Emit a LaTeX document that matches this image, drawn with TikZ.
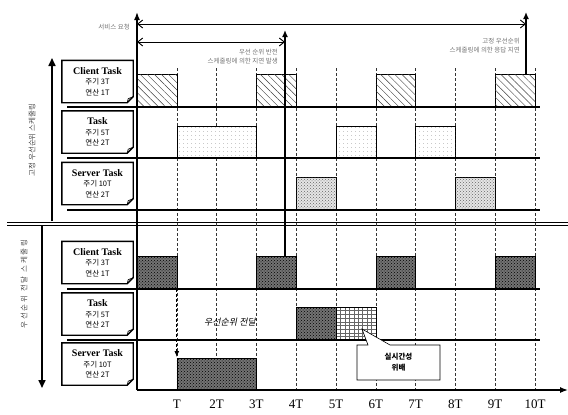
\documentclass[tikz,border=0pt]{standalone}
\usepackage{fontspec}
\setmainfont{Liberation Serif}
\newfontfamily\kr{Noto Sans CJK KR}
\newfontfamily\krit{Noto Sans CJK KR}[FakeSlant=0.2]
\newfontfamily\krsp{Noto Sans CJK KR}[LetterSpace=25]
\usetikzlibrary{patterns,patterns.meta,arrows.meta,calc}
\begin{document}
\begin{tikzpicture}[x=1pt,y=-1pt,
  hatch/.style={draw=black, line width=0.5pt, fill=white, postaction={pattern={Lines[angle=-45,distance=5pt,line width=0.45pt]}, pattern color=black!75}},
  lightdots/.style={draw=black, line width=0.5pt, fill=white, postaction={pattern={Dots[distance=4pt,radius=0.35pt]}, pattern color=black!50}},
  meddots/.style={draw=black, line width=0.5pt, fill=black!10, postaction={pattern=crosshatch dots, pattern color=black!60}},
  dark/.style={draw=black, line width=0.5pt, fill=black!55, postaction={pattern=crosshatch dots, pattern color=black}},
  gridblk/.style={draw=black, line width=0.5pt, fill=white},
  gline/.style={densely dashed, line width=0.5pt, black!80},
  rowline/.style={line width=1.2pt},
  taskdoc/.style={minimum width=71pt, minimum height=42pt, inner sep=0pt, align=center, font=\fontsize{7.5}{10.5}\selectfont},
  docborder/.style={line width=1.4pt, fill=white},
  note/.style={font=\kr\fontsize{6.5}{8.5}\selectfont, text=black!55, align=right, inner sep=0pt},
  tlab/.style={font=\fontsize{13}{13}\selectfont, inner sep=0pt},
  bigarrow/.style={line width=1.6pt, -{Triangle[length=8pt,width=7pt]}},
  toparrow/.style={line width=1.3pt}
]
\useasboundingbox (0,0) rectangle (568,415);
\def\T{39.8}
\def\tx#1{137+#1*\T}

% coordinates
\coordinate (o) at (137,390);
\coordinate (otop) at (137,12);
\coordinate (xend) at (568,390);

% double separator
\draw[line width=1pt] (7,222) -- (568,222);
\draw[line width=1pt] (7,225.5) -- (568,225.5);

% grid lines
\foreach \k in {1,...,10}{
  \draw[gline] ({\tx{\k}},68) -- ({\tx{\k}},390);
}

% top client blocks
\foreach \k in {0,3,6,9}{
  \path[hatch] ({\tx{\k}},74) rectangle ({\tx{\k}+\T},107);
}
% top task blocks
\path[lightdots] ({\tx{1}},126) rectangle ({\tx{3}},158);
\path[lightdots] ({\tx{5}},126) rectangle ({\tx{6}},158);
\path[lightdots] ({\tx{7}},126) rectangle ({\tx{8}},158);
% top server blocks
\path[meddots] ({\tx{4}},177) rectangle ({\tx{5}},210);
\path[meddots] ({\tx{8}},177) rectangle ({\tx{9}},210);

% bottom client blocks
\foreach \k in {0,3,6,9}{
  \path[dark] ({\tx{\k}},256) rectangle ({\tx{\k}+\T},289);
}
% bottom task blocks
\path[dark] ({\tx{4}},307) rectangle ({\tx{5}},340);
\path[gridblk] ({\tx{5}},307) rectangle ({\tx{6}},340);
\foreach \i in {1,...,8}{
  \draw[black!60, line width=0.35pt] ({\tx{5}+\i*4.42},307) -- ({\tx{5}+\i*4.42},340);
  \draw[black!60, line width=0.35pt] ({\tx{5}},{307+\i*3.67}) -- ({\tx{6}},{307+\i*3.67});
}
\draw[line width=0.5pt] ({\tx{5}},307) rectangle ({\tx{6}},340);
% bottom server block
\path[dark] ({\tx{1}},358) rectangle ({\tx{3}},390);

% row lines
\foreach \yy in {107,158,210,289,340}{
  \draw[rowline] (67,\yy) -- (540,\yy);
}

% axes
\draw[line width=1.5pt, -{Latex[length=8pt,width=6pt]}] (o) -- (otop);
\draw[line width=1.3pt, -{Latex[length=8pt,width=6pt]}] (o) -- (xend);

% time labels
\foreach \k/\lab in {1/T,2/2T,3/3T,4/4T,5/5T,6/6T,7/7T,8/8T,9/9T,10/10T}{
  \node[tlab] (t\k) at ({\tx{\k}},404) {\lab};
}

% top arrows
\coordinate (r1) at (285,256);
\coordinate (r1top) at (285,30);
\coordinate (r2) at (526,74);
\coordinate (r2top) at (526,12);
\coordinate (h1l) at (137,24);
\coordinate (h1r) at (526,24);
\coordinate (h2l) at (137,42);
\coordinate (h2r) at (285,42);
\draw[toparrow, -{Latex[length=7pt,width=6pt]}] (r1) -- (r1top);
\draw[toparrow, -{Latex[length=7pt,width=6pt]}] (r2) -- (r2top);
\draw[line width=0.9pt, {Straight Barb[length=5pt,width=8pt]}-{Straight Barb[length=5pt,width=8pt]}] (h1l) -- (h1r);
\draw[line width=0.9pt, {Straight Barb[length=5pt,width=8pt]}-{Straight Barb[length=5pt,width=8pt]}] (h2l) -- (h2r);

% notes
\node[note, anchor=east] (n0) at (130,27) {서비스 요청};
\node[note, anchor=north east] (n1) at (278,49) {우선 순위 반전\\스케줄링에 의한 지연 발생};
\node[note, anchor=north east] (n2) at (520,38) {고정 우선순위\\스케줄링에 의한 응답 지연};

% left arrows and labels
\draw[bigarrow] (52,221) -- (52,58);
\draw[bigarrow] (42,226) -- (42,388);
\node[rotate=90, font=\kr\fontsize{7.5}{7.5}\selectfont, text=black!70] (lab1) at (32,140) {고정 우선순위 스케줄링};
\node[rotate=90, font=\krsp\fontsize{7.5}{7.5}\selectfont, text=black!70] (lab2) at (24,284) {우선순위 전달 스케줄링};

% task boxes
\foreach \nm/\yc/\title/\per/\op in {
  c1/81.5/Client Task/3T/1T,
  k1/132/Task/5T/2T,
  s1/183.5/Server Task/10T/2T,
  c2/262.5/Client Task/3T/1T,
  k2/314/Task/5T/2T,
  s2/364/Server Task/10T/2T}{
  \node[taskdoc] (\nm) at (97.5,\yc) {};
  \draw[docborder] (\nm.north west) -- (\nm.north east) -- ($(\nm.south east)+(0,-6)$) -- ($(\nm.south east)+(-6,0)$) -- (\nm.south west) -- cycle;
  \draw[line width=0.7pt] ($(\nm.south east)+(0,-6)$) -- ($(\nm.south east)+(-5,-4)$) -- ($(\nm.south east)+(-6,0)$);
  \node[taskdoc] at (97.5,\yc) {{\fontsize{10}{11}\selectfont\bfseries \title}\\{\kr 주기 \per}\\{\kr 연산 \op}};
}

% dashed arrow priority transfer
\coordinate (pa) at ({\tx{1}},289);
\coordinate (pb) at ({\tx{1}},357);
\draw[densely dashed, line width=0.8pt, -{Latex[length=6pt,width=5pt]}] (pa) -- (pb);
\node[font=\krit\fontsize{9}{9}\selectfont] (pt) at (230,322) {우선순위 전달};

% callout
\coordinate (ctip) at (362,329);
\draw[line width=0.6pt, fill=white] (357,345) -- (368,345) -- (ctip) -- (390,345) -- (440,345) -- (440,380) -- (357,380) -- cycle;
\node[font=\kr\fontsize{7.5}{11}\selectfont\bfseries, align=center] (cl) at (398.5,362.5) {실시간성\\위배};
\end{tikzpicture}
\end{document}
